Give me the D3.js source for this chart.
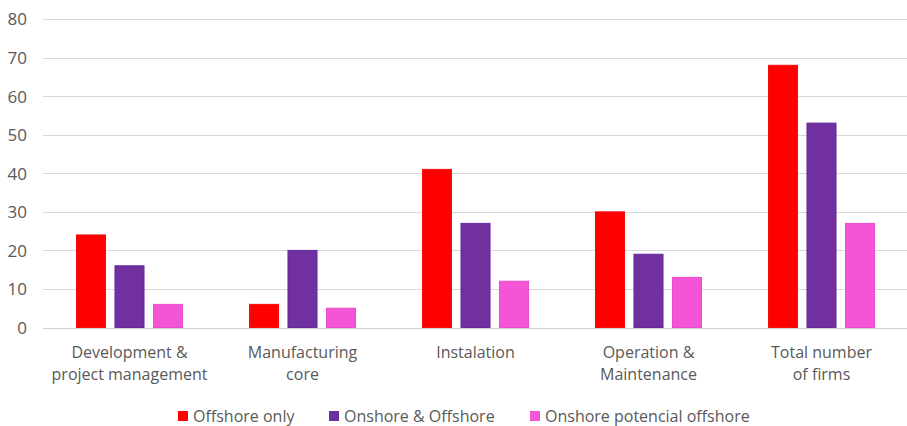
<!DOCTYPE html>
<html>
<head>
<meta charset="utf-8">
<script src="https://cdn.jsdelivr.net/npm/d3@7"></script>
<style>
  html, body { margin: 0; padding: 0; background: #fff; }
  svg { display: block; }
  text { font-family: "Open Sans", "Liberation Sans", sans-serif; fill: #595959; }
</style>
</head>
<body>
<svg id="chart" width="907" height="426"></svg>
<script>
// Firms by value-chain segment
const categories = [
  ["Development &", "project management"],
  ["Manufacturing", "core"],
  ["Instalation"],
  ["Operation &", "Maintenance"],
  ["Total number", "of firms"]
];
const seriesNames = ["Offshore only", "Onshore & Offshore", "Onshore potencial offshore"];
const offshoreOnly = [24, 6, 41, 30, 68];
const onshoreAndOffshore = [16, 20, 27, 19, 53];
const onshorePotencial = [6, 5, 12, 13, 27];
const yTicks = [0, 10, 20, 30, 40, 50, 60, 70, 80];

const seriesValues = [offshoreOnly, onshoreAndOffshore, onshorePotencial];
const colors = ["#FF0000", "#7030A0", "#F455D6"];
const strokes = ["#F01010", "#6428A0", "#E84CCB"];

const svg = d3.select("#chart");
const plotLeft = 43, plotRight = 908, plotTop = 19, plotBottom = 327.5;

const catKeys = categories.map((c, i) => i);
const x0 = d3.scaleBand().domain(catKeys).range([plotLeft, plotRight]).padding(0);
const groupW = 115.5;
const x1 = d3.scaleBand().domain(d3.range(seriesNames.length))
  .range([0, groupW]).paddingInner(0.22).paddingOuter(0.11);
const y = d3.scaleLinear().domain([0, 80]).range([plotBottom, plotTop]);

// Gridlines
svg.append("g").selectAll("line").data(yTicks).join("line")
  .attr("x1", plotLeft).attr("x2", plotRight)
  .attr("y1", d => Math.round(y(d)) + 0.5).attr("y2", d => Math.round(y(d)) + 0.5)
  .attr("stroke", d => d === 0 ? "#d0d0d0" : "#d9d9d9").attr("stroke-width", 1);

// Y axis labels
const yAxis = d3.axisLeft(y).tickValues(yTicks).tickSize(0).tickPadding(0);
const gy = svg.append("g").attr("transform", "translate(27,0)").call(yAxis);
gy.select(".domain").remove();
gy.selectAll("text").attr("font-size", 17).style("fill", "#595959")
  .style("font-family", "'Open Sans', sans-serif").attr("dy", "0.35em");

// Bars
const groups = svg.append("g").selectAll("g").data(catKeys).join("g")
  .attr("transform", d => `translate(${x0(d) + (x0.bandwidth() - groupW) / 2},0)`);
groups.selectAll("rect")
  .data(ci => seriesValues.map((vals, si) => ({ si, v: vals[ci] })))
  .join("rect")
  .attr("x", d => x1(d.si) + 0.5)
  .attr("width", x1.bandwidth() - 1)
  .attr("y", d => y(d.v))
  .attr("height", d => y(0) - y(d.v))
  .attr("fill", d => colors[d.si])
  .attr("stroke", d => strokes[d.si])
  .attr("stroke-width", 1);

// Category labels
const catLabels = svg.append("g").selectAll("text").data(catKeys).join("text")
  .attr("x", d => x0(d) + x0.bandwidth() / 2)
  .attr("y", 358)
  .attr("text-anchor", "middle")
  .attr("font-size", 16);
catLabels.selectAll("tspan").data(d => categories[d]).join("tspan")
  .attr("x", function () { return d3.select(this.parentNode).attr("x"); })
  .attr("dy", (d, i) => i === 0 ? 0 : 22)
  .text(d => d);

// Legend
const legendX = [178, 329, 530];
const legend = svg.append("g").selectAll("g").data(seriesNames).join("g")
  .attr("transform", (d, i) => `translate(${legendX[i]},416)`);
legend.append("rect").attr("x", 0).attr("y", -5).attr("width", 10).attr("height", 10)
  .attr("fill", (d, i) => colors[i]);
legend.append("text").attr("x", 15).attr("y", 0).attr("dy", "0.35em")
  .attr("font-size", 16).text(d => d);
</script>
</body>
</html>
